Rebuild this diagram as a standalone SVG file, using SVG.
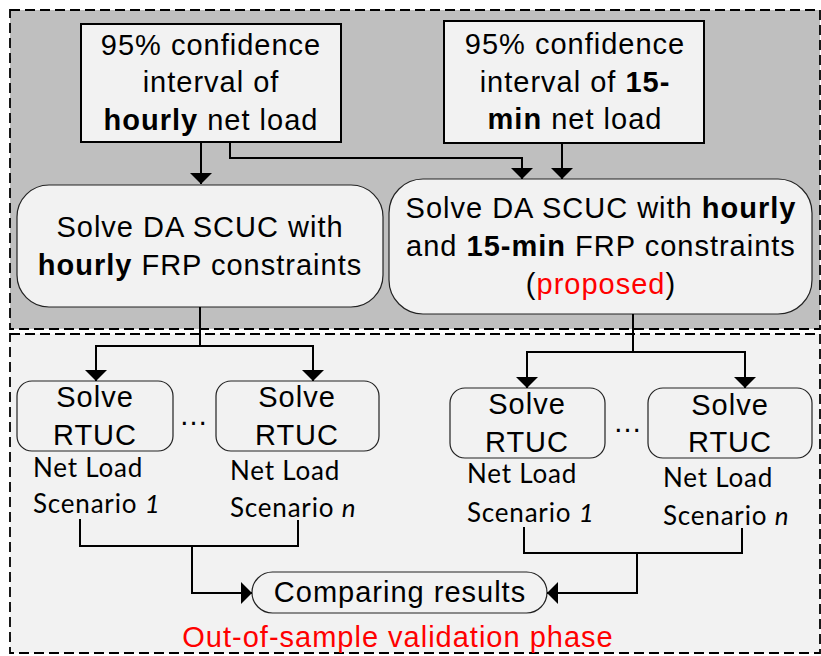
<svg xmlns="http://www.w3.org/2000/svg" width="821" height="656" viewBox="0 0 821 656">
<style>
.t{font-family:"Liberation Sans",Arial,sans-serif;font-size:29px;letter-spacing:1px;fill:#000;text-anchor:middle}
.c{font-family:Lato,"Open Sans",sans-serif;font-size:26px;letter-spacing:0.8px;fill:#000}
.b{font-weight:bold}
.red{fill:#ff0000}
.panel{stroke:#000;stroke-width:1.8;stroke-dasharray:10 5}
.box{fill:#f2f2f2;stroke:#000;stroke-width:2}
.rbox{fill:#f2f2f2;stroke:#222;stroke-width:1.2}
.con{fill:none;stroke:#000;stroke-width:2}
</style>
<defs>
<marker id="ah" viewBox="0 0 12 22" refX="11" refY="11" markerWidth="12" markerHeight="22" markerUnits="userSpaceOnUse" orient="auto">
<path d="M0,0 L11,11 L0,22 Z" fill="#000"/>
</marker>
</defs>
<rect width="821" height="656" fill="#fff"/>
<g id="phase-da">
<rect class="panel" x="10" y="10" width="810" height="319" fill="#bfbfbf"/>
</g>
<g id="phase-validation">
<rect class="panel" x="10" y="334" width="810" height="319" fill="#f2f2f2"/>
<text class="t red" x="398" y="647">Out-of-sample validation phase</text>
</g>
<g id="ci-hourly">
<rect class="box" x="81" y="24" width="260" height="118"/>
<text class="t" x="211" y="55">95% confidence</text>
<text class="t" x="211" y="92">interval of</text>
<text class="t" x="211" y="130"><tspan class="b">hourly</tspan> net load</text>
</g>
<g id="ci-15min">
<rect class="box" x="444" y="21" width="260" height="122"/>
<text class="t" x="575" y="54">95% confidence</text>
<text class="t" x="575" y="92">interval of <tspan class="b">15-</tspan></text>
<text class="t" x="575" y="129"><tspan class="b">min</tspan> net load</text>
</g>
<g id="scuc-hourly">
<rect class="rbox" x="17" y="185" width="366" height="122" rx="32"/>
<text class="t" x="200" y="237">Solve DA SCUC with</text>
<text class="t" x="200" y="275"><tspan class="b">hourly</tspan> FRP constraints</text>
</g>
<g id="scuc-proposed">
<rect class="rbox" x="389" y="179" width="423" height="135" rx="34"/>
<text class="t" x="601" y="218">Solve DA SCUC with <tspan class="b">hourly</tspan></text>
<text class="t" x="601" y="256">and <tspan class="b">15-min</tspan> FRP constraints</text>
<text class="t" x="601" y="294">(<tspan class="red">proposed</tspan>)</text>
</g>
<g id="rtuc-a1">
<rect class="rbox" x="17" y="381" width="156" height="70" rx="15"/>
<text class="t" x="95" y="407">Solve</text>
<text class="t" x="95" y="445">RTUC</text>
<text class="c" x="33" y="477">Net Load</text>
<text class="c" x="33" y="513">Scenario <tspan font-style="italic">1</tspan></text>
</g>
<g id="rtuc-an">
<rect class="rbox" x="216" y="381" width="163" height="70" rx="15"/>
<text class="t" x="297" y="407">Solve</text>
<text class="t" x="297" y="445">RTUC</text>
<text class="c" x="230" y="480">Net Load</text>
<text class="c" x="230" y="517">Scenario <tspan font-style="italic">n</tspan></text>
</g>
<g id="rtuc-b1">
<rect class="rbox" x="450" y="388" width="155" height="70" rx="15"/>
<text class="t" x="527" y="414">Solve</text>
<text class="t" x="527" y="452">RTUC</text>
<text class="c" x="467" y="483">Net Load</text>
<text class="c" x="467" y="522">Scenario <tspan font-style="italic">1</tspan></text>
</g>
<g id="rtuc-bn">
<rect class="rbox" x="648" y="388" width="164" height="70" rx="15"/>
<text class="t" x="730" y="415">Solve</text>
<text class="t" x="730" y="452">RTUC</text>
<text class="c" x="663" y="487">Net Load</text>
<text class="c" x="663" y="525">Scenario <tspan font-style="italic">n</tspan></text>
</g>
<g id="ellipses">
<text class="t" x="194" y="425">…</text>
<text class="t" x="628" y="432">…</text>
</g>
<g id="compare">
<rect class="rbox" x="252" y="572" width="295" height="41" rx="20.5"/>
<text class="t" x="400" y="602">Comparing results</text>
</g>
<g id="connectors">
<path class="con" d="M201,142 V184" marker-end="url(#ah)"/>
<path class="con" d="M230,142 V158 H522 V179" marker-end="url(#ah)"/>
<path class="con" d="M562,143 V179" marker-end="url(#ah)"/>
<path class="con" d="M200,307 V346"/>
<path class="con" d="M200,346 H96 V381" marker-end="url(#ah)"/>
<path class="con" d="M200,346 H313 V381" marker-end="url(#ah)"/>
<path class="con" d="M633,314 V352"/>
<path class="con" d="M633,352 H527 V388" marker-end="url(#ah)"/>
<path class="con" d="M633,352 H745 V388" marker-end="url(#ah)"/>
<path class="con" d="M80,519 V546 H298 V520"/>
<path class="con" d="M192,546 V593 H252" marker-end="url(#ah)"/>
<path class="con" d="M524,527 V553 H742 V528"/>
<path class="con" d="M637,553 V593 H547" marker-end="url(#ah)"/>
</g>
</svg>
